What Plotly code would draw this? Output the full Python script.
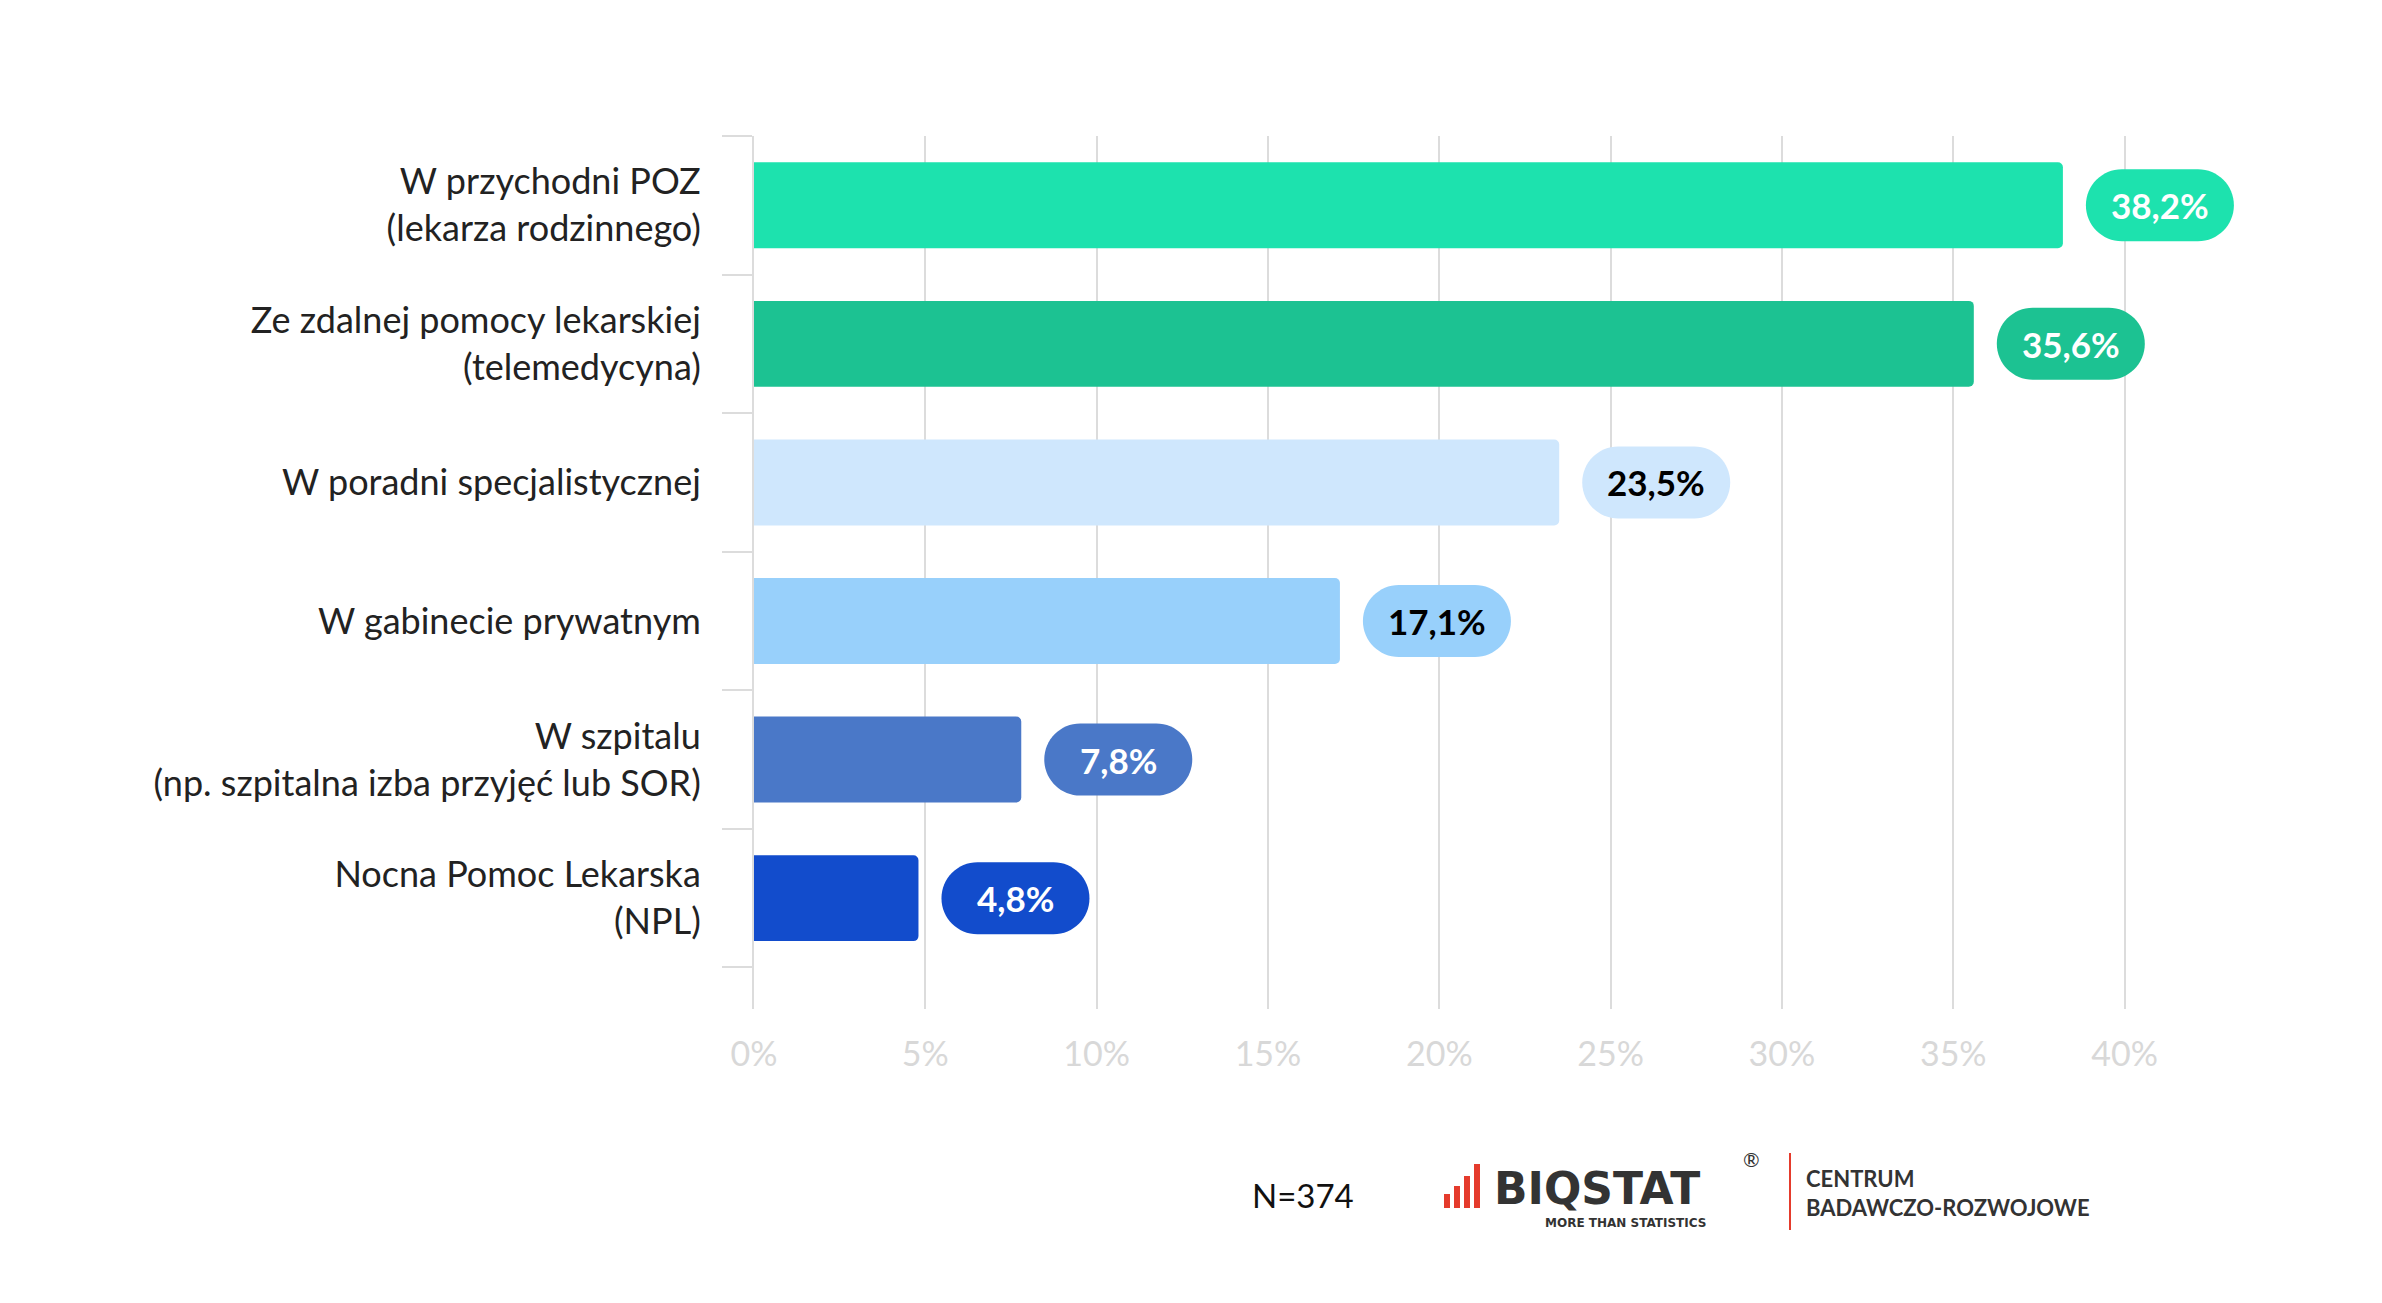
import plotly.graph_objects as go

categories = ['W przychodni POZ<br>(lekarza rodzinnego)',
              'Ze zdalnej pomocy lekarskiej<br>(telemedycyna)',
              'W poradni specjalistycznej',
              'W gabinecie prywatnym',
              'W szpitalu<br>(np. szpitalna izba przyjęć lub SOR)',
              'Nocna Pomoc Lekarska<br>(NPL)']
values = [38.2, 35.6, 23.5, 17.1, 7.8, 4.8]
bar_colors = ['#1de2ae', '#1cc292', '#cfe7fd', '#98d0fb', '#4a78c8', '#124ccc']
text_colors = ['white', 'white', 'black', 'black', 'white', 'white']
tick_vals = [0, 5, 10, 15, 20, 25, 30, 35, 40]
tick_text = [f'{v}%' for v in tick_vals]

FONT = 'Lato, Noto Sans, sans-serif'
L, R, T, B = 746, 262, 128, 302
PW, PH = 2382 - L - R, 1303 - T - B
XMAX = 40.1

fig = go.Figure(go.Bar(
    y=categories, x=values, orientation='h',
    marker=dict(color=bar_colors, cornerradius=5, line=dict(width=0)),
    width=0.62, hoverinfo='skip'))

# pill-shaped value labels (rounded rect via cubic curves); paper x so they are not clipped
pw, ph, off = 148, 72, 23
r = ph / 2
k = r * 0.5523
a, b = off + r, off + pw - r
pill = (f'M {a},{-r} L {b},{-r} '
        f'C {b + k},{-r} {b + r},{-k} {b + r},0 '
        f'C {b + r},{k} {b + k},{r} {b},{r} '
        f'L {a},{r} '
        f'C {a - k},{r} {a - r},{k} {a - r},0 '
        f'C {a - r},{-k} {a - k},{-r} {a},{-r} Z')
for cat, v, c, tc in zip(categories, values, bar_colors, text_colors):
    fig.add_shape(type='path', xref='paper', yref='y', xsizemode='pixel', ysizemode='pixel',
                  xanchor=v / XMAX, yanchor=cat, path=pill, fillcolor=c, line=dict(width=0))
    fig.add_annotation(x=v, y=cat, xref='x', yref='y', xanchor='center', xshift=off + pw / 2,
                       text=f'<b>{v:.1f}%</b>'.replace('.', ','), showarrow=False,
                       font=dict(family=FONT, size=35, color=tc))

fig.update_layout(
    width=2382, height=1303,
    margin=dict(l=L, r=R, t=T, b=B),
    plot_bgcolor='white', paper_bgcolor='white',
    showlegend=False,
    font=dict(family=FONT, color='#222'),
    xaxis=dict(range=[0, XMAX], tickvals=tick_vals, ticktext=tick_text,
               showgrid=True, gridcolor='#dcdcdc', gridwidth=2, zeroline=False,
               tickfont=dict(size=34, color='#d8d8d8'), ticks='', ticklabelstandoff=22),
    yaxis=dict(categoryorder='array', categoryarray=categories[::-1],
               range=[-0.8, 5.5], tickson='boundaries', ticks='outside', ticklen=30,
               tickcolor='#dcdcdc', tickwidth=2, showline=True, linecolor='#dcdcdc',
               linewidth=2, showgrid=False, tickfont=dict(size=36, color='#222'),
               ticklabelstandoff=44),
)


def px_x(x):
    return (x - L) / PW


def px_y(y):
    return -(y - T - PH) / PH


# footer: sample size and logo
fig.add_annotation(xref='paper', yref='paper', x=px_x(1295), y=px_y(1187),
                   text='N=374', showarrow=False, xanchor='center', yanchor='middle',
                   font=dict(family=FONT, size=33, color='#111'))
for x0, h in [(1436, 14), (1446, 22), (1456, 32), (1466, 44)]:
    fig.add_shape(type='rect', xref='paper', yref='paper',
                  x0=px_x(x0), x1=px_x(x0 + 6), y0=px_y(1200), y1=px_y(1200 - h),
                  fillcolor='#e53b2c', line=dict(width=0))
fig.add_annotation(xref='paper', yref='paper', x=px_x(1484), y=px_y(1180),
                   text='<b>BIQSTAT</b>', showarrow=False, xanchor='left', yanchor='middle',
                   font=dict(family='DejaVu Sans', size=44, color='#333'))
fig.add_annotation(xref='paper', yref='paper', x=px_x(1617), y=px_y(1215),
                   text='<b>MORE THAN STATISTICS</b>', showarrow=False, xanchor='center',
                   yanchor='middle', font=dict(family='DejaVu Sans', size=12, color='#333'))
fig.add_annotation(xref='paper', yref='paper', x=px_x(1754), y=px_y(1165),
                   text='®', showarrow=False, font=dict(size=20, color='#333'))
fig.add_shape(type='line', xref='paper', yref='paper',
              x0=px_x(1782), x1=px_x(1782), y0=px_y(1145), y1=px_y(1222),
              line=dict(color='#e53b2c', width=2))
fig.add_annotation(xref='paper', yref='paper', x=px_x(1796), y=px_y(1185),
                   text='<b>CENTRUM<br>BADAWCZO-ROZWOJOWE</b>', showarrow=False, xanchor='left',
                   yanchor='middle', align='left',
                   font=dict(family=FONT, size=22, color='#333'))

fig.write_html('out.html')
